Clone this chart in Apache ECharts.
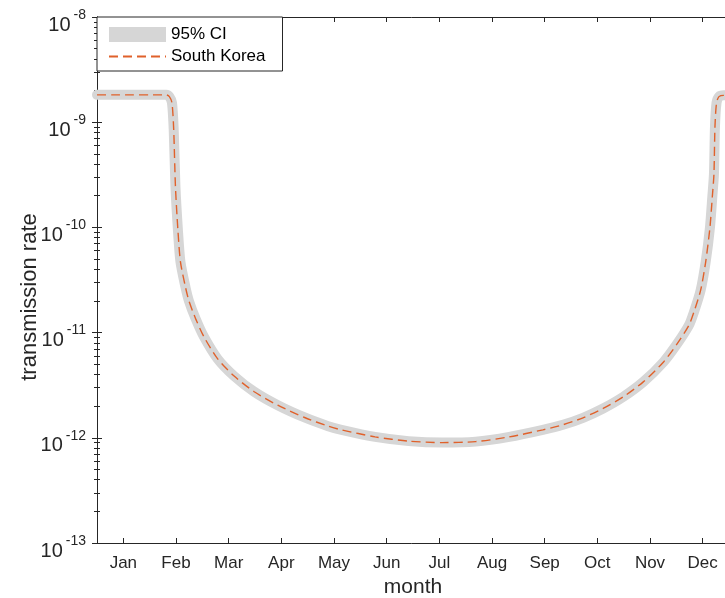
<!DOCTYPE html>
<html>
<head>
<meta charset="utf-8">
<script src="https://cdn.jsdelivr.net/npm/echarts@6/dist/echarts.min.js"></script>
<style>
  html, body { margin: 0; padding: 0; background: #fff; }
  #chart { width: 725px; height: 598px; }
</style>
</head>
<body>
<div id="chart"></div>
<script>
const monthNames = ["Jan", "Feb", "Mar", "Apr", "May", "Jun", "Jul", "Aug", "Sep", "Oct", "Nov", "Dec"];
// day of year for each point
const days = [0, 10, 20, 30, 40, 41.8, 43.3, 44.3, 45.3, 46.7, 48.2, 51.1, 53.1, 57.0, 61.8, 69.6,
  79.2, 90.8, 104.4, 119.9, 133.5, 141.2, 160.6, 180.0, 199.4, 218.7, 238.1, 257.5, 269.1, 280.7,
  292.3, 303.9, 315.5, 327.2, 335.0, 341.8, 344.7, 348.6, 351.5, 354.0, 355.4, 356.3, 356.9, 357.8,
  359.2, 362, 365];
const koreaRate = [1.82e-9, 1.82e-9, 1.82e-9, 1.82e-9, 1.82e-9, 1.75e-9, 1.53e-9, 8.5e-10, 2.45e-10,
  9.6e-11, 4.7e-11, 2.7e-11, 2.0e-11, 1.35e-11, 9.1e-12, 5.65e-12, 3.86e-12, 2.74e-12, 2.04e-12,
  1.56e-12, 1.29e-12, 1.19e-12, 1.02e-12, 9.3e-13, 9.0e-13, 9.2e-13, 1.02e-12, 1.19e-12, 1.33e-12,
  1.55e-12, 1.90e-12, 2.45e-12, 3.40e-12, 5.26e-12, 7.8e-12, 1.17e-11, 1.56e-11, 2.52e-11, 4.66e-11,
  1.0e-10, 1.99e-10, 3.2e-10, 9.1e-10, 1.53e-9, 1.75e-9, 1.8e-9, 1.8e-9];

const monthTicks = monthNames.map((m, i) => (i + 0.5) * 365 / 12);
const pts = days.map((d, i) => [d, koreaRate[i]]);

const ink = "#262626";
const font = "Liberation Sans, Arial, sans-serif";

const tickOpts = { show: true, inside: true, length: 5, lineStyle: { color: ink, width: 1 } };
const lineOpts = { show: true, lineStyle: { color: ink, width: 1 } };
const minorOpts = { show: true, splitNumber: 9, length: 3, lineStyle: { color: ink, width: 1 } };

echarts.init(document.getElementById("chart")).setOption({
  animation: false,
  grid: { left: 97, right: -4, top: 17, bottom: 55, outerBoundsMode: "none" },
  legend: {
    left: 97, top: 17, orient: "vertical", itemGap: 5,
    padding: [9, 17, 6, 11], itemWidth: 57, itemHeight: 15,
    backgroundColor: "#fff", borderColor: ink, borderWidth: 1,
    textStyle: { fontFamily: font, fontSize: 17, color: "#000" },
    data: [
      { name: "95% CI", icon: "rect" },
      { name: "South Korea", itemStyle: { opacity: 0 } }
    ]
  },
  xAxis: [
    {
      type: "value", min: 0, max: 365, position: "bottom",
      name: "month", nameLocation: "middle", nameGap: 31,
      nameTextStyle: { fontFamily: font, fontSize: 21, color: ink },
      axisLine: lineOpts, splitLine: { show: false },
      axisTick: Object.assign({ customValues: monthTicks }, tickOpts),
      axisLabel: {
        customValues: monthTicks, margin: 12,
        fontFamily: font, fontSize: 17, color: ink,
        formatter: v => monthNames[Math.round(v * 12 / 365 - 0.5)]
      }
    },
    {
      type: "value", min: 0, max: 365, position: "top",
      axisLine: lineOpts, splitLine: { show: false },
      axisTick: Object.assign({ customValues: monthTicks }, tickOpts),
      axisLabel: { show: false }
    }
  ],
  yAxis: [
    {
      type: "log", logBase: 10, min: 1e-13, max: 1e-8, position: "left",
      name: "transmission rate", nameLocation: "middle", nameGap: 56, nameMoveOverlap: false,
      nameTextStyle: { fontFamily: font, fontSize: 22, color: ink, padding: [0, 34, 0, 0] },
      axisLine: lineOpts, splitLine: { show: false }, axisTick: tickOpts, minorTick: minorOpts,
      axisLabel: {
        margin: 11, color: ink,
        formatter: v => `{b|10}{s|${Math.round(Math.log10(v))}}`,
        rich: {
          b: { fontFamily: font, fontSize: 20, color: ink, padding: [16, 0, 0, 0] },
          s: { fontFamily: font, fontSize: 14, color: ink, padding: [0, 0, 4, 3] }
        }
      }
    },
    {
      type: "log", logBase: 10, min: 1e-13, max: 1e-8, position: "right",
      axisLine: lineOpts, splitLine: { show: false }, axisTick: tickOpts, minorTick: minorOpts,
      axisLabel: { show: false }
    }
  ],
  series: [
    {
      name: "95% CI", type: "line", data: pts, showSymbol: false, symbol: "none",
      smooth: 0.25,
      itemStyle: { color: "#d6d6d6" },
      lineStyle: { color: "#d6d6d6", width: 10, join: "round", cap: "round" }
    },
    {
      name: "South Korea", type: "line", data: pts, showSymbol: false, symbol: "none",
      smooth: 0.25,
      itemStyle: { color: "#e0612b" },
      lineStyle: { color: "#e0612b", width: 1.4, type: [9, 5] }
    }
  ]
});
</script>
</body>
</html>
